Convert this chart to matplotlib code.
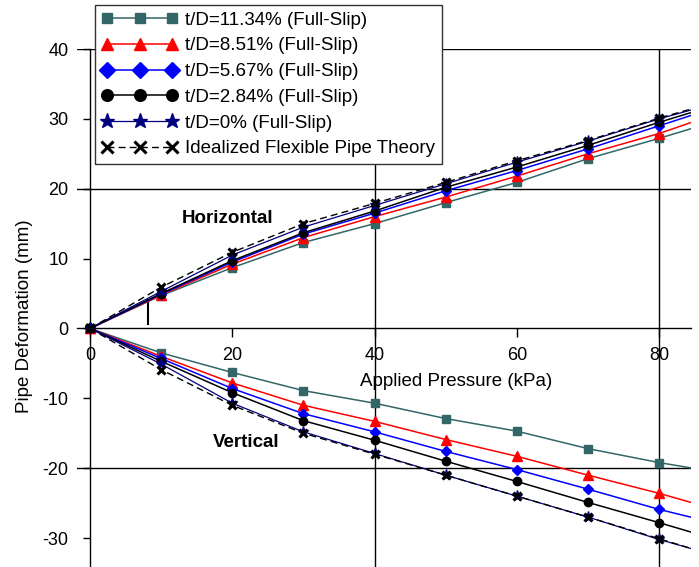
"""
Pipe deformation vs applied pressure, horizontal and vertical
"""
import numpy as np
import matplotlib
matplotlib.use('Agg')
import matplotlib.pyplot as plt

plt.rcParams['font.family'] = ['Liberation Sans', 'DejaVu Sans']
plt.rcParams['axes.unicode_minus'] = False

#######data#######
pressure = [0, 10, 20, 30, 40, 50, 60, 70, 80, 90]

# horizontal (positive) deformation
h_1134 = [0, 4.7, 8.7, 12.3, 15.0, 18.0, 20.9, 24.3, 27.2, 30.3]
h_851 = [0, 4.8, 9.2, 13.0, 16.0, 18.8, 21.8, 25.0, 27.9, 31.4]
h_567 = [0, 4.9, 9.5, 13.5, 16.5, 19.7, 22.6, 25.7, 29.0, 32.3]
h_284 = [0, 5.0, 9.7, 13.7, 16.8, 20.2, 23.1, 26.2, 29.5, 32.6]
h_0 = [0, 5.3, 10.5, 14.5, 17.6, 20.7, 23.8, 26.8, 30.0, 32.8]
h_theory = [0, 5.9, 10.9, 15.0, 17.9, 20.9, 24.0, 26.9, 30.1, 33.0]

# vertical (negative) deformation
v_1134 = [0, -3.5, -6.3, -8.9, -10.7, -12.9, -14.7, -17.2, -19.2, -20.9]
v_851 = [0, -4.0, -7.8, -11.0, -13.3, -15.9, -18.3, -21.0, -23.6, -26.5]
v_567 = [0, -4.3, -8.6, -12.2, -14.8, -17.6, -20.2, -23.0, -25.9, -28.4]
v_284 = [0, -4.7, -9.2, -13.2, -16.0, -19.0, -21.9, -24.9, -27.8, -30.8]
v_0 = [0, -5.1, -10.7, -14.8, -17.9, -21.0, -24.0, -27.0, -30.2, -33.1]
v_theory = [0, -5.9, -11.0, -15.0, -18.0, -21.0, -24.0, -27.0, -30.1, -33.2]

labels = ['t/D=11.34% (Full-Slip)', 't/D=8.51% (Full-Slip)', 't/D=5.67% (Full-Slip)',
          't/D=2.84% (Full-Slip)', 't/D=0% (Full-Slip)', 'Idealized Flexible Pipe Theory']

# stray vertical tick drawn on the original chart
mark_x = [8.15, 8.15]
mark_y = [0.7, 4.0]

x_ticks = [0, 20, 40, 60, 80]
y_ticks = [-30, -20, -10, 0, 10, 20, 30, 40]

#######plot#######
fig = plt.figure(figsize=(6.99, 5.67), dpi=100)
ax = fig.add_axes([77/699, 0, 614/699, 518/567])
ax.set_xlim(-1.83, 84.5)
ax.set_ylim(-34.15, 40)

for y in [40, 20, -20]:
    ax.axhline(y, color='black', lw=1, zorder=1)
for x in [40, 80]:
    ax.axvline(x, color='black', lw=1, zorder=1)

styles = [
    dict(color='#336666', marker='s', ms=5.5, lw=1.1),
    dict(color='#ff0000', marker='^', ms=6.5, lw=1.1),
    dict(color='#0000ff', marker='D', ms=5.5, lw=1.1),
    dict(color='black', marker='o', ms=6, lw=1.1),
    dict(color='#000080', marker='*', ms=8, lw=0.9),
    dict(color='black', marker='x', ms=6, mew=2.2, lw=1.0, ls=(0, (5, 3))),
]
uppers = [h_1134, h_851, h_567, h_284, h_0, h_theory]
lowers = [v_1134, v_851, v_567, v_284, v_0, v_theory]

for st, up, lo, lab in zip(styles, uppers, lowers, labels):
    ax.plot(pressure, up, label=lab, zorder=3, **st)
    ax.plot(pressure, lo, zorder=3, **st)

ax.plot(mark_x, mark_y, color='black', lw=1.5, zorder=2)

ax.spines['left'].set_position(('data', 0))
ax.spines['bottom'].set_position(('data', 0))
ax.spines['top'].set_visible(False)
ax.spines['right'].set_visible(False)
ax.spines['left'].set_linewidth(1)
ax.spines['bottom'].set_linewidth(1)

ax.set_xticks(x_ticks)
ax.set_yticks(y_ticks)
ax.tick_params(axis='x', direction='out', length=6.5, width=1, pad=7, labelsize=13)
ax.tick_params(axis='y', direction='out', length=5, width=1, pad=10.5, labelsize=13)

ax.text(0.617, 0.359, 'Applied Pressure (kPa)', transform=ax.transAxes,
        ha='center', va='center', fontsize=13.5)
ax.text(-0.0847, 0.4846, 'Pipe Deformation (mm)', transform=ax.transAxes,
        ha='center', va='center', rotation=90, fontsize=13.5)

ax.text(19.4, 15.7, 'Horizontal', ha='center', va='center', fontsize=13.5, fontweight='bold')
ax.text(21.9, -16.3, 'Vertical', ha='center', va='center', fontsize=13.5, fontweight='bold')

leg = ax.legend(loc='upper left', bbox_to_anchor=(95/699, 1 - 5/567),
                bbox_transform=fig.transFigure, borderaxespad=0, numpoints=3,
                markerscale=1.4, fontsize=13.5, handlelength=4.05, handletextpad=0.4,
                borderpad=0.35, labelspacing=0.46, fancybox=False, framealpha=1,
                edgecolor='#333333')
leg.get_frame().set_linewidth(1)
leg.set_zorder(5)

fig.savefig('out.png', dpi=100)
